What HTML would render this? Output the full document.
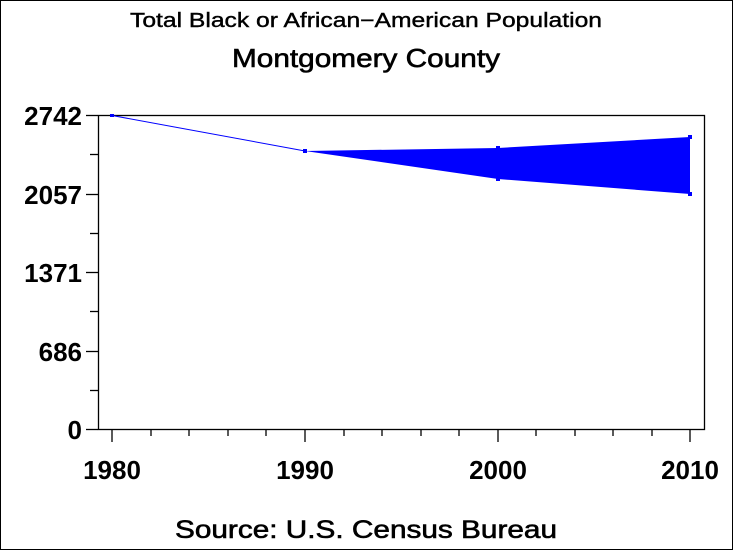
<!DOCTYPE html>
<html><head><style>
body{margin:0;background:#fff}
svg{display:block}
text{font-family:"Liberation Sans",sans-serif;fill:#000}
</style></head><body>
<svg width="733" height="550" viewBox="0 0 733 550">
<rect x="0.5" y="0.5" width="732" height="549" fill="#fff" stroke="#000"/>
<text x="130" y="27" font-size="20" textLength="472" lengthAdjust="spacingAndGlyphs" stroke="#000" stroke-width="0.4">Total Black or African−American Population</text>
<text x="232" y="67" font-size="26" textLength="268" lengthAdjust="spacingAndGlyphs" stroke="#000" stroke-width="0.6">Montgomery County</text>
<text x="175" y="538" font-size="25" textLength="382" lengthAdjust="spacingAndGlyphs" stroke="#000" stroke-width="0.6">Source: U.S. Census Bureau</text>
<rect x="98.5" y="115.5" width="606" height="314" fill="none" stroke="#000" stroke-width="1.3"/>
<g stroke="#000" stroke-width="1.3">
<line x1="86" y1="115.5" x2="98" y2="115.5"/><line x1="90" y1="154.5" x2="98" y2="154.5"/>
<line x1="86" y1="194.5" x2="98" y2="194.5"/><line x1="90" y1="233.5" x2="98" y2="233.5"/>
<line x1="86" y1="272.5" x2="98" y2="272.5"/><line x1="90" y1="311.5" x2="98" y2="311.5"/>
<line x1="86" y1="351.5" x2="98" y2="351.5"/><line x1="90" y1="390.5" x2="98" y2="390.5"/>
<line x1="86" y1="429.5" x2="98" y2="429.5"/>
<line x1="112" y1="429" x2="112" y2="442"/><line x1="305" y1="429" x2="305" y2="442"/>
<line x1="498" y1="429" x2="498" y2="442"/><line x1="690" y1="429" x2="690" y2="442"/>
<line x1="151" y1="429" x2="151" y2="436"/><line x1="189" y1="429" x2="189" y2="436"/>
<line x1="228" y1="429" x2="228" y2="436"/><line x1="266" y1="429" x2="266" y2="436"/>
<line x1="344" y1="429" x2="344" y2="436"/><line x1="382" y1="429" x2="382" y2="436"/>
<line x1="421" y1="429" x2="421" y2="436"/><line x1="459" y1="429" x2="459" y2="436"/>
<line x1="536" y1="429" x2="536" y2="436"/><line x1="575" y1="429" x2="575" y2="436"/>
<line x1="613" y1="429" x2="613" y2="436"/><line x1="652" y1="429" x2="652" y2="436"/>
</g>
<g font-size="26" font-weight="bold" text-anchor="end">
<text x="82" y="125">2742</text><text x="82" y="204">2057</text>
<text x="82" y="282">1371</text><text x="82" y="361">686</text><text x="82" y="439">0</text>
</g>
<g font-size="26" font-weight="bold" text-anchor="middle">
<text x="112" y="479">1980</text><text x="305" y="479">1990</text>
<text x="498" y="479">2000</text><text x="690" y="479">2010</text>
</g>
<polyline points="112,115.5 305,151" fill="none" stroke="#00f" stroke-width="1"/>
<polygon points="305,151 498,148 690,137 690,194 498,179" fill="#00f"/>
<g fill="#00f">
<rect x="110" y="114" width="4" height="3"/><rect x="303" y="149" width="4" height="4"/>
<rect x="496" y="146" width="4" height="4"/><rect x="496" y="177" width="4" height="4"/>
<rect x="688" y="135" width="4" height="4"/><rect x="688" y="192" width="4" height="4"/>
</g>
</svg>
</body></html>
